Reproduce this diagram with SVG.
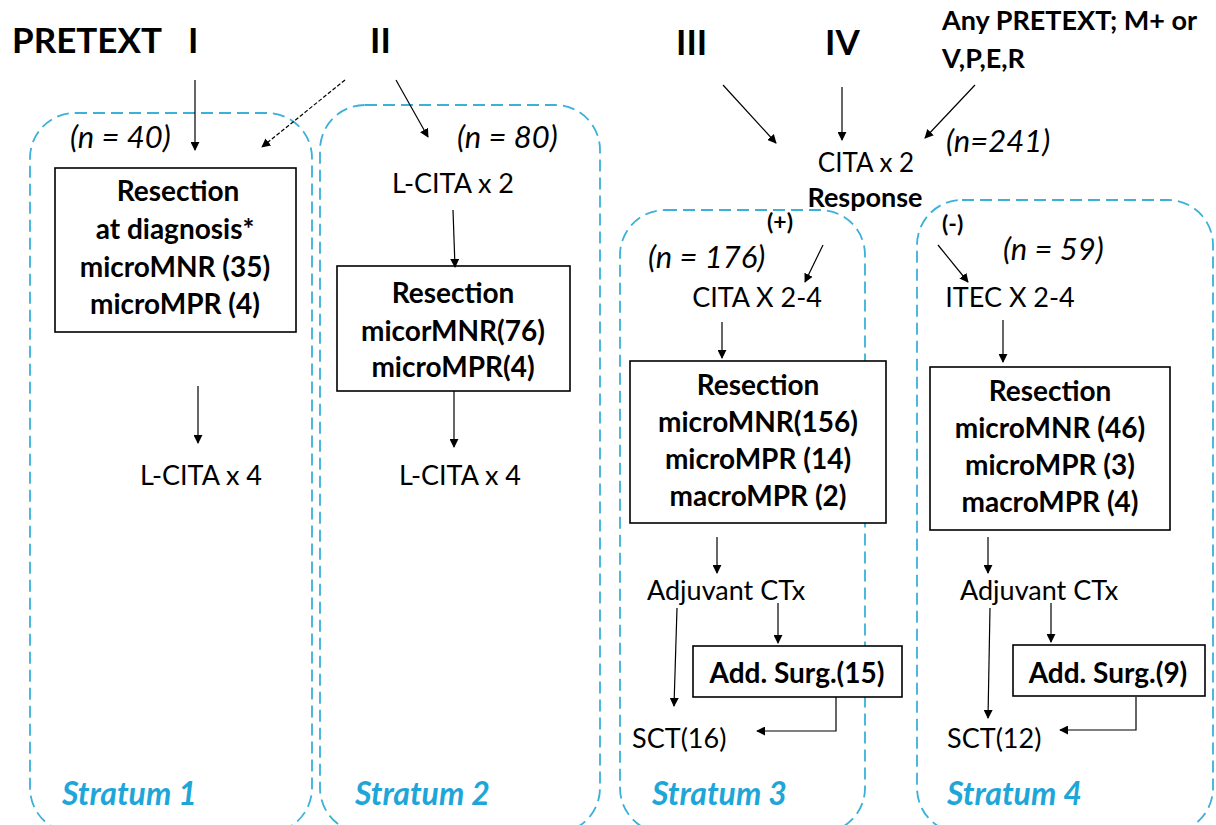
<svg xmlns="http://www.w3.org/2000/svg" width="1216" height="825" viewBox="0 0 1216 825">
<defs>
<marker id="ah" viewBox="0 0 10 10" refX="9" refY="5" markerWidth="9" markerHeight="9" markerUnits="userSpaceOnUse" orient="auto"><path d="M0,0 L10,5 L0,10 z" fill="#000"/></marker>
<style>
.t{font-family:Lato,"Open Sans",sans-serif;fill:#000}
.h{font-weight:bold;font-size:35px}
.b{font-weight:bold;font-size:28px}
.r{font-size:27px}
.i{font-style:italic;font-size:31px}
.s{font-family:Lato,"Open Sans",sans-serif;font-weight:bold;font-style:italic;font-size:32px;fill:#1ea6d9}
.strat{fill:none;stroke:#3bb0d9;stroke-width:1.8;stroke-dasharray:12 6}
.box{fill:#fff;stroke:#000;stroke-width:1.6}
.c{fill:none;stroke:#000;stroke-width:1.2}
</style>
</defs>
<rect width="1216" height="825" fill="#fff"/>
<g id="strata">
<rect class="strat" x="30" y="113" width="282" height="720" rx="45"/>
<rect class="strat" x="320" y="105" width="280" height="728" rx="45"/>
<rect class="strat" x="620" y="210" width="245" height="623" rx="45"/>
<rect class="strat" x="917" y="200" width="296" height="633" rx="45"/>
</g>
<g id="headers">
<text class="t h" x="12" y="53">PRETEXT</text>
<text class="t h" x="188" y="53">I</text>
<text class="t h" x="370" y="53">II</text>
<text class="t h" x="676" y="55">III</text>
<text class="t h" x="825" y="55">IV</text>
<text class="t b" x="942" y="30" style="font-size:27px">Any PRETEXT; M+ or</text>
<text class="t b" x="942" y="68" style="font-size:27px">V,P,E,R</text>
</g>
<g id="labels">
<text class="t i" x="70" y="148">(n = 40)</text>
<text class="t i" x="457" y="148">(n = 80)</text>
<text class="t i" x="946" y="152">(n=241)</text>
<text class="t i" x="648" y="268">(n = 176)</text>
<text class="t i" x="1003" y="260">(n = 59)</text>
<text class="t r" x="866" y="172" text-anchor="middle" style="font-size:26px">CITA x 2</text>
<text class="t b" x="865" y="207" text-anchor="middle" style="font-size:27px">Response</text>
<text class="t b" x="767" y="230" style="font-size:23px">(+)</text>
<text class="t b" x="942" y="232" style="font-size:23px">(-)</text>
</g>
<g id="s1">
<rect class="box" x="55" y="168" width="241" height="164"/>
<text class="t b" x="178" y="201" text-anchor="middle">Resection</text>
<text class="t b" x="175" y="239" text-anchor="middle">at diagnosis*</text>
<text class="t b" x="175" y="277" text-anchor="middle">microMNR (35)</text>
<text class="t b" x="175" y="314" text-anchor="middle">microMPR (4)</text>
<text class="t r" x="201" y="485" text-anchor="middle">L-CITA x 4</text>
<text class="s" x="62" y="805">Stratum 1</text>
</g>
<g id="s2">
<text class="t r" x="453" y="193" text-anchor="middle">L-CITA x 2</text>
<rect class="box" x="337" y="266" width="233" height="125"/>
<text class="t b" x="453" y="303" text-anchor="middle">Resection</text>
<text class="t b" x="453" y="341" text-anchor="middle">micorMNR(76)</text>
<text class="t b" x="453" y="377" text-anchor="middle">microMPR(4)</text>
<text class="t r" x="460" y="485" text-anchor="middle">L-CITA x 4</text>
<text class="s" x="355" y="805">Stratum 2</text>
</g>
<g id="s3">
<text class="t r" x="757" y="307" text-anchor="middle">CITA X 2-4</text>
<rect class="box" x="630" y="361" width="256" height="162"/>
<text class="t b" x="758" y="395" text-anchor="middle">Resection</text>
<text class="t b" x="758" y="432" text-anchor="middle">microMNR(156)</text>
<text class="t b" x="758" y="469" text-anchor="middle">microMPR (14)</text>
<text class="t b" x="758" y="506" text-anchor="middle">macroMPR (2)</text>
<text class="t r" x="647" y="600">Adjuvant CTx</text>
<rect class="box" x="693" y="646" width="209" height="51"/>
<text class="t b" x="797" y="683" text-anchor="middle">Add. Surg.(15)</text>
<text class="t r" x="632" y="748">SCT(16)</text>
<text class="s" x="652" y="805">Stratum 3</text>
</g>
<g id="s4">
<text class="t r" x="1010" y="307" text-anchor="middle">ITEC X 2-4</text>
<rect class="box" x="930" y="367" width="240" height="163"/>
<text class="t b" x="1050" y="401" text-anchor="middle">Resection</text>
<text class="t b" x="1050" y="438" text-anchor="middle">microMNR (46)</text>
<text class="t b" x="1050" y="475" text-anchor="middle">microMPR (3)</text>
<text class="t b" x="1050" y="512" text-anchor="middle">macroMPR (4)</text>
<text class="t r" x="960" y="600">Adjuvant CTx</text>
<rect class="box" x="1013" y="645" width="192" height="51"/>
<text class="t b" x="1108" y="683" text-anchor="middle">Add. Surg.(9)</text>
<text class="t r" x="947" y="748">SCT(12)</text>
<text class="s" x="947" y="805">Stratum 4</text>
</g>
<g id="connectors">
<line class="c" x1="195" y1="80" x2="195" y2="150" marker-end="url(#ah)"/>
<line class="c" x1="345" y1="80" x2="262" y2="147" stroke-dasharray="4 2" marker-end="url(#ah)"/>
<line class="c" x1="396" y1="80" x2="428" y2="137" marker-end="url(#ah)"/>
<line class="c" x1="723" y1="85" x2="776" y2="143" marker-end="url(#ah)"/>
<line class="c" x1="842" y1="87" x2="842" y2="140" marker-end="url(#ah)"/>
<line class="c" x1="975" y1="85" x2="925" y2="138" marker-end="url(#ah)"/>
<line class="c" x1="198" y1="386" x2="198" y2="443" marker-end="url(#ah)"/>
<line class="c" x1="453" y1="210" x2="455" y2="267" marker-end="url(#ah)"/>
<line class="c" x1="454" y1="391" x2="454" y2="447" marker-end="url(#ah)"/>
<line class="c" x1="823" y1="245" x2="805" y2="282" marker-end="url(#ah)"/>
<line class="c" x1="722" y1="322" x2="722" y2="358" marker-end="url(#ah)"/>
<line class="c" x1="717" y1="537" x2="717" y2="573" marker-end="url(#ah)"/>
<line class="c" x1="778" y1="603" x2="778" y2="643" marker-end="url(#ah)"/>
<line class="c" x1="677" y1="608" x2="674" y2="706" marker-end="url(#ah)"/>
<polyline class="c" points="836,697 836,731 757,731" marker-end="url(#ah)"/>
<line class="c" x1="938" y1="245" x2="968" y2="282" marker-end="url(#ah)"/>
<line class="c" x1="1003" y1="320" x2="1003" y2="362" marker-end="url(#ah)"/>
<line class="c" x1="988" y1="537" x2="988" y2="573" marker-end="url(#ah)"/>
<line class="c" x1="1051" y1="603" x2="1051" y2="642" marker-end="url(#ah)"/>
<line class="c" x1="990" y1="608" x2="988" y2="718" marker-end="url(#ah)"/>
<polyline class="c" points="1136,697 1136,730 1060,730" marker-end="url(#ah)"/>
</g>
</svg>
